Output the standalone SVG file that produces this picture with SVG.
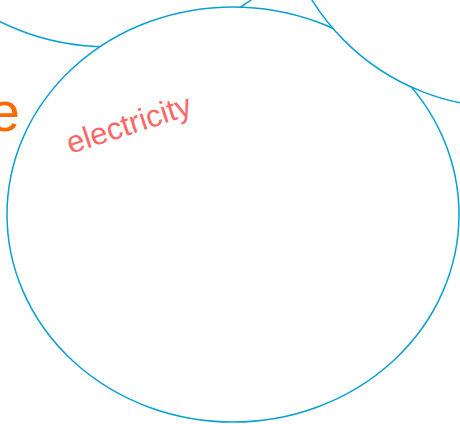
<svg xmlns="http://www.w3.org/2000/svg" width="460" height="424" viewBox="0 0 460 424">
<style>
.c{fill:#fff;stroke:#0aa0d2;stroke-width:1.5}
.t{font-family:"Liberation Sans",Arial,sans-serif}
</style>
<rect width="460" height="424" fill="#fff"/>
<g id="node-topleft"><circle class="c" cx="107.6" cy="-196.2" r="243"/></g>
<g id="node-label-e"><text class="t" x="20" y="131" font-size="56" fill="#ff6a00" text-anchor="end">e</text></g>
<g id="node-main"><ellipse class="c" cx="233" cy="214.5" rx="226" ry="207.5"/>
<text class="t" transform="translate(132,134) rotate(-18)" font-size="31" fill="#ff6666" text-anchor="middle">electricity</text></g>
<g id="node-topright"><circle class="c" cx="505.5" cy="-120.6" r="228"/></g>
<g id="connectors"></g>
</svg>
